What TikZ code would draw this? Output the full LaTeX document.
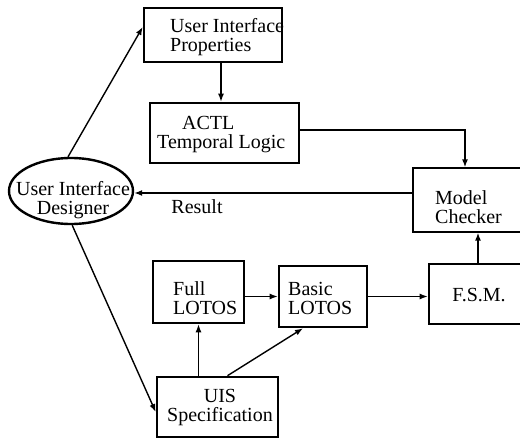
\documentclass[tikz,border=0pt]{standalone}
\usepackage{fontspec}
\setmainfont{Liberation Serif}
\usetikzlibrary{arrows.meta,shapes.geometric,calc}
\begin{document}
\begin{tikzpicture}[x=1pt,y=-1pt,
  box/.style={draw,line width=2.6pt,inner sep=0pt},
  thinbox/.style={draw,line width=1.3pt,inner sep=0pt},
  txt/.style={inner sep=0pt,font=\fontsize{20}{19}\selectfont},
  conn/.style={line width=1.4pt,-{Latex[length=8pt,width=6pt]}}]
\useasboundingbox (0,0) rectangle (520,439);
\clip (0,0) rectangle (520,439);
% boxes
\node[box,minimum width=138pt,minimum height=54pt] (uip) at (213,35) {};
\node[box,minimum width=149pt,minimum height=60pt] (actl) at (224.5,133) {};
\node[thinbox,minimum width=116pt,minimum height=64pt] (mc) at (471,200) {};
\node[box,minimum width=91pt,minimum height=62pt] (full) at (198.5,292) {};
\node[box,minimum width=88pt,minimum height=61pt] (basic) at (323,296.5) {};
\node[box,minimum width=106pt,minimum height=60pt] (fsm) at (482,294) {};
\node[box,minimum width=121pt,minimum height=60pt] (uis) at (217.5,407) {};
\node[draw,line width=2.4pt,ellipse,inner sep=0pt,minimum width=124pt,minimum height=66pt] (des) at (71,191) {};
% texts
\node[txt,align=left,anchor=west] (tuip) at (170,37) {User Interface\\Properties};
\node[txt,align=left,anchor=west] (tactl) at (157,135) {\hspace*{25pt}ACTL\\Temporal Logic};
\node[txt,align=left,anchor=west] (tmc) at (435,207) {Model\\Checker};
\node[txt,align=left,anchor=west] (tfull) at (173,298) {Full\\LOTOS};
\node[txt,align=left,anchor=west] (tbasic) at (288,298) {Basic\\LOTOS};
\node[txt] (tfsm) at (479,295) {F.S.M.};
\node[txt,align=center] (tuis) at (220,408) {UIS\\Specification};
\node[txt,align=center] (tdes) at (73,200) {User Interface\\Designer};
\node[txt] (tres) at (197,207) {Result};
% connectors
\draw[conn] (des.95) -- ([yshift=8pt]uip.west);
\draw[conn] (des.-88) -- ([yshift=-5pt]uis.west);
\draw[conn] ([xshift=8pt]uip.south) -- ([xshift=8pt]uip.south |- actl.north);
\draw[conn] ([yshift=3pt]actl.east) -| ([xshift=-6pt]mc.north);
\draw[conn] ([yshift=7pt]mc.west) -- ([yshift=7pt]mc.west -| des.east);
\draw[conn] (full.east |- basic.west) -- (basic.west);
\draw[conn] (basic.east) -- (basic.east -| fsm.west);
\draw[conn] ([xshift=-4pt]fsm.north) -- ([xshift=-4pt]fsm.north |- mc.south);
\draw[conn] (full.south |- uis.north) -- (full.south);
\draw[conn] ([xshift=10pt]uis.north) -- ([xshift=-20pt]basic.south);
\end{tikzpicture}
\end{document}
